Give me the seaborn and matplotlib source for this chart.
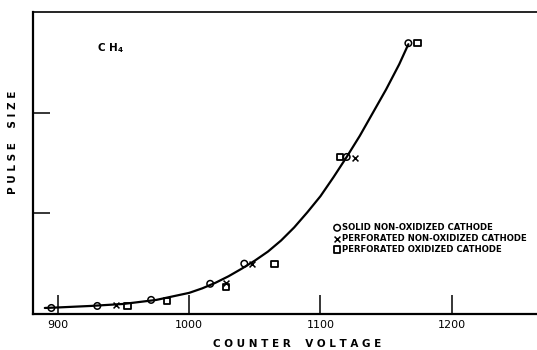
import matplotlib
matplotlib.use("Agg")
import matplotlib.pyplot as plt
import seaborn as sns
import pandas as pd

# ---- data ----
curve_x = [890, 900, 925, 950, 975, 1000, 1010, 1020, 1030, 1040, 1050, 1060, 1070, 1080,
           1090, 1100, 1110, 1120, 1130, 1140, 1150, 1160, 1167]
curve_y = [0.06, 0.065, 0.08, 0.10, 0.14, 0.21, 0.255, 0.31, 0.375, 0.45, 0.53, 0.62, 0.73,
           0.86, 1.01, 1.17, 1.36, 1.56, 1.77, 2.00, 2.23, 2.48, 2.68]

solid_x = [895, 930, 971, 1016, 1042, 1120, 1167]
solid_y = [0.06, 0.08, 0.14, 0.30, 0.50, 1.56, 2.69]

perf_x = [944, 1028, 1048, 1126]
perf_y = [0.09, 0.31, 0.50, 1.55]

oxid_x = [953, 983, 1028, 1065, 1115, 1174]
oxid_y = [0.08, 0.13, 0.27, 0.50, 1.56, 2.69]

series_labels = ["SOLID NON-OXIDIZED CATHODE",
                 "PERFORATED NON-OXIDIZED CATHODE",
                 "PERFORATED OXIDIZED CATHODE"]
x_ticks = [900, 1000, 1100, 1200]
y_ticks = [1, 2]

sns.set_style("white")
plt.rcParams['font.family'] = ['DejaVu Sans']
plt.rcParams['text.color'] = 'black'

W, H = 537, 350
fig = plt.figure(figsize=(W / 100, H / 100), dpi=100)
ax = fig.add_axes([33 / W, 36 / H, (W - 33) / W, 302 / H])

curve = pd.DataFrame({"x": curve_x, "y": curve_y})
sns.lineplot(data=curve, x="x", y="y", ax=ax, color="black", linewidth=1.6, sort=False)

sns.scatterplot(x=solid_x, y=solid_y, ax=ax, marker="o", s=22, facecolors="none",
                edgecolors="black", linewidth=1.1, label=series_labels[0], zorder=3)
sns.scatterplot(x=perf_x, y=perf_y, ax=ax, marker="x", s=18, color="black",
                linewidth=1.1, label=series_labels[1], zorder=3)
sns.scatterplot(x=oxid_x, y=oxid_y, ax=ax, marker="s", s=20, facecolors="none",
                edgecolors="black", linewidth=1.3, label=series_labels[2], zorder=3)

ax.set_xlim(881, 1265)
ax.set_ylim(0, 3)
ax.set_xticks(x_ticks)
ax.set_xticklabels([str(t) for t in x_ticks], fontsize=8)
ax.set_yticks(y_ticks)
ax.set_yticklabels([])
ax.tick_params(axis="x", bottom=True, direction="in", length=14, width=1.1, pad=4,
               color="black", labelcolor="black")
ax.tick_params(axis="y", left=True, direction="in", length=12, width=1.1, color="black")

for side in ["left", "bottom"]:
    ax.spines[side].set_linewidth(1.6)
    ax.spines[side].set_color("black")
ax.spines["top"].set_linewidth(1.2)
ax.spines["top"].set_color("black")
ax.spines["right"].set_visible(False)

ax.set_xlabel("C O U N T E R    V O L T A G E", fontsize=7.5, fontweight="bold", color="black")
ax.xaxis.set_label_coords((297 - 33) / 504, -0.083)
ax.set_ylabel("P U L S E    S I Z E", fontsize=7.5, fontweight="bold", color="black")
ax.yaxis.set_label_coords((18 - 33) / 504, 0.57)

ax.text((97 - 33) / 504, 0.881, r"C H$_{\mathbf{4}}$", transform=ax.transAxes,
        fontsize=7.5, fontweight="bold", va="center", ha="left", color="black")

leg = ax.legend(loc="upper left", bbox_to_anchor=((335 - 33) / 504, (314 - 223) / 302),
                frameon=False, handlelength=0.5, handletextpad=0.35,
                labelspacing=0.22, borderpad=0, borderaxespad=0,
                prop={"weight": "bold", "size": 6.1})
for t in leg.get_texts():
    t.set_color("black")

fig.savefig("out.png", dpi=100)
